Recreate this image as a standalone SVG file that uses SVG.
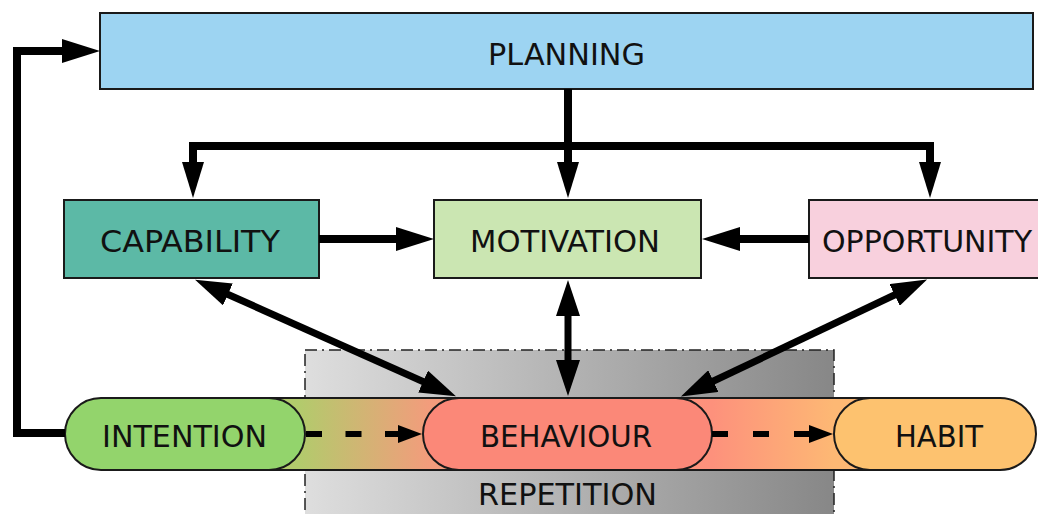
<svg xmlns="http://www.w3.org/2000/svg" width="1038" height="514" viewBox="0 0 1038 514">
<defs>
<style>
.box{stroke:#1a1a1a;stroke-width:2}
.lbl{font-family:"DejaVu Sans Condensed","DejaVu Sans",sans-serif;font-stretch:condensed;font-size:31px;fill:#111;text-anchor:middle}
.con{fill:none;stroke:#000;stroke-width:8}
.diag{fill:none;stroke:#000;stroke-width:7}
.dash{fill:none;stroke:#000;stroke-width:6}
</style>
<linearGradient id="repGrad" gradientUnits="userSpaceOnUse" x1="305" y1="0" x2="834" y2="0">
<stop offset="0" stop-color="#dedede"/>
<stop offset="1" stop-color="#878787"/>
</linearGradient>
<linearGradient id="bandGrad" gradientUnits="userSpaceOnUse" x1="65" y1="0" x2="1038" y2="0">
<stop offset="0.24" stop-color="#b2cb6c"/>
<stop offset="0.375" stop-color="#f39c7c"/>
<stop offset="0.665" stop-color="#fd917c"/>
<stop offset="0.79" stop-color="#fdb874"/>
</linearGradient>
<marker id="ah" markerUnits="userSpaceOnUse" viewBox="0 0 38 24" markerWidth="38" markerHeight="24" refX="1" refY="12" orient="auto-start-reverse">
<path d="M0,0 L38,12 L0,24 z" fill="#000"/>
</marker>
<marker id="ahv" markerUnits="userSpaceOnUse" viewBox="0 0 36 22" markerWidth="36" markerHeight="22" refX="1" refY="11" orient="auto">
<path d="M0,0 L36,11 L0,22 z" fill="#000"/>
</marker>
<marker id="ahd" markerUnits="userSpaceOnUse" viewBox="0 0 36 24" markerWidth="36" markerHeight="24" refX="1" refY="12" orient="auto-start-reverse">
<path d="M0,0 L36,12 L0,24 z" fill="#000"/>
</marker>
<marker id="ahs" markerUnits="userSpaceOnUse" viewBox="0 0 24 18" markerWidth="24" markerHeight="18" refX="1" refY="9" orient="auto">
<path d="M0,0 L24,9 L0,18 z" fill="#000"/>
</marker>
</defs>

<g id="repetition">
<rect x="305" y="350" width="529" height="175" fill="url(#repGrad)" stroke="#222" stroke-width="1.5" stroke-dasharray="12 5 2 5"/>
<text class="lbl" x="567.5" y="505" textLength="179" lengthAdjust="spacingAndGlyphs">REPETITION</text>
</g>

<g id="band">
<rect x="150" y="398" width="800" height="72" fill="url(#bandGrad)" stroke="#1a1a1a" stroke-width="2"/>
</g>

<g id="planning">
<rect class="box" x="100" y="13" width="933" height="76" fill="#9dd4f2"/>
<text class="lbl" x="566.5" y="65" textLength="157" lengthAdjust="spacingAndGlyphs">PLANNING</text>
</g>

<g id="capability">
<rect class="box" x="64" y="200" width="255" height="78" fill="#5cb9a6"/>
<text class="lbl" x="190" y="252" textLength="180" lengthAdjust="spacingAndGlyphs">CAPABILITY</text>
</g>

<g id="motivation">
<rect class="box" x="434" y="200" width="267" height="78" fill="#cbe6b2"/>
<text class="lbl" x="565" y="252" textLength="190" lengthAdjust="spacingAndGlyphs">MOTIVATION</text>
</g>

<g id="opportunity">
<rect class="box" x="809" y="200" width="240" height="78" fill="#f8d0dd"/>
<text class="lbl" x="927" y="252" textLength="210" lengthAdjust="spacingAndGlyphs">OPPORTUNITY</text>
</g>

<g id="intention">
<rect class="box" x="65" y="398" width="240" height="72" rx="36" ry="36" fill="#93d46c"/>
<text class="lbl" x="184.5" y="447" textLength="165" lengthAdjust="spacingAndGlyphs">INTENTION</text>
</g>

<g id="behaviour">
<rect class="box" x="423" y="398" width="289" height="72" rx="36" ry="36" fill="#fb8878"/>
<text class="lbl" x="566" y="447" textLength="172" lengthAdjust="spacingAndGlyphs">BEHAVIOUR</text>
</g>

<g id="habit">
<rect class="box" x="834" y="398" width="202" height="72" rx="36" ry="36" fill="#fdc26f"/>
<text class="lbl" x="939" y="447" textLength="88" lengthAdjust="spacingAndGlyphs">HABIT</text>
</g>

<g id="connectors">
<path class="con" d="M65,433 H17 V51 H63" marker-end="url(#ah)"/>
<path class="con" d="M568,89 V163" marker-end="url(#ahv)"/>
<path class="con" d="M193,163 V146 H930 V163" marker-end="url(#ahv)"/>
<path class="con" d="M193,150 V163" marker-end="url(#ahv)"/>
<path class="con" d="M319,239 H397" marker-end="url(#ah)"/>
<path class="con" d="M809,239 H739" marker-end="url(#ah)"/>
<path class="diag" d="M227,294 L424,382" marker-start="url(#ahd)" marker-end="url(#ahd)"/>
<path class="diag" d="M568,315 V361" marker-start="url(#ahd)" marker-end="url(#ahd)"/>
<path class="diag" d="M895.5,294.5 L712.5,381.5" marker-start="url(#ahd)" marker-end="url(#ahd)"/>
<path class="dash" d="M306,434 H399" stroke-dasharray="16 23.5" marker-end="url(#ahs)"/>
<path class="dash" d="M712,434 H810" stroke-dasharray="16 25" marker-end="url(#ahs)"/>
</g>
</svg>
